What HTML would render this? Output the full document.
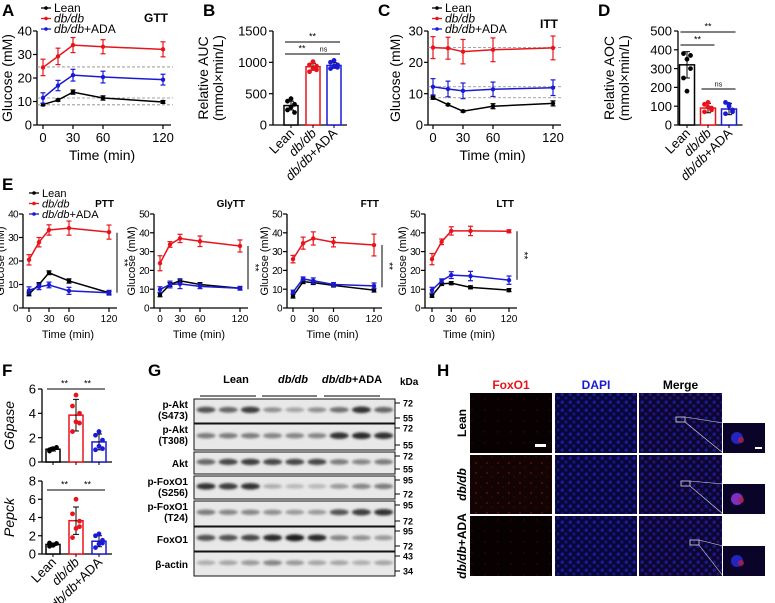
<!DOCTYPE html>
<html><head><meta charset="utf-8"><style>
html,body{margin:0;padding:0;background:#fff;}
svg{display:block;font-family:"Liberation Sans",Arial,sans-serif;}
</style></head><body>
<svg id="fig" width="775" height="603" viewBox="0 0 775 603" xmlns="http://www.w3.org/2000/svg">
<defs>
<filter id="blur1" x="-20%" y="-50%" width="140%" height="200%"><feGaussianBlur stdDeviation="1.2"/></filter>
<pattern id="dapiPat" width="8" height="8" patternUnits="userSpaceOnUse">
<rect width="8" height="8" fill="#07073c"/>
<circle cx="2.2" cy="2.2" r="1.7" fill="#1c1c96"/><circle cx="6" cy="6" r="1.5" fill="#181884"/>
</pattern>
<pattern id="mergePat" width="8" height="8" patternUnits="userSpaceOnUse">
<rect width="8" height="8" fill="#0c0634"/>
<circle cx="2.2" cy="2.2" r="1.7" fill="#1e1a8c"/><circle cx="6" cy="6" r="1.5" fill="#2a1672"/>
</pattern>
<pattern id="foxPat" width="13" height="11" patternUnits="userSpaceOnUse">
<rect width="13" height="11" fill="#080101"/><circle cx="4" cy="3" r="0.7" fill="#3e0a0a"/>
</pattern>
<pattern id="foxPat2" width="11" height="10" patternUnits="userSpaceOnUse">
<rect width="11" height="10" fill="#140303"/><circle cx="3" cy="3" r="1" fill="#5a0e0e"/><circle cx="8" cy="7" r="0.7" fill="#440a0a"/>
</pattern>
</defs>
</svg>
<script>
// ---------- DATA ----------
const times=[0,15,30,60,120];
const gttLean=[8.7,10.6,14,11.5,9.8], gttLeanE=[0.5,0.5,0.9,0.9,0.6];
const gttDb=[24.5,29.2,34,33.3,32.2], gttDbE=[3.5,3.5,3.2,3,3.2];
const gttAda=[11.5,16.8,21.2,20.4,19.3], gttAdaE=[2.2,2.2,2.5,2.5,2.3];
const ittLean=[8.7,6.5,4.4,6,6.9], ittLeanE=[0.5,0.3,0.3,0.8,0.8];
const ittDb=[24.7,24.5,23.4,24,24.6], ittDbE=[3.5,3.5,3.9,3.8,3.8];
const ittAda=[12.2,11.5,10.9,11.4,11.9], ittAdaE=[2.6,2.5,2.5,2.3,2.5];
const pttLean=[6,10,15,11.5,6.5], pttLeanE=[0.8,0.8,0.8,0.9,0.6];
const pttDb=[20.5,28,33.2,34,32.3], pttDbE=[2.2,2,2.2,3,3];
const pttAda=[7.5,9,9.8,7.3,6.5], pttAdaE=[1.5,1.2,1.2,1.5,1];
const glyLean=[7,12.5,14.5,12.5,10.5], glyLeanE=[1,1,1,1,0.8];
const glyDb=[23.8,33.8,37,35.5,33], glyDbE=[4,1.5,2.2,2.8,3.2];
const glyAda=[9.8,12.5,12.8,11.5,10.5], glyAdaE=[1.5,1.8,2.5,1.2,1];
const fttLean=[6.3,14,13.5,12,9.5], fttLeanE=[1,1,1,0.8,1];
const fttDb=[26,34.5,37,35,33.5], fttDbE=[2,3.2,3.5,2.5,5.8];
const fttAda=[8.5,15.5,14.5,12.5,11.8], fttAdaE=[1,1,1.5,1,1.5];
const lttLean=[6.5,12.8,13.2,11,9.5], lttLeanE=[0.8,0.8,0.8,0.8,0.8];
const lttDb=[26,35.2,41,41,40.8], lttDbE=[3,1.5,2.2,2.5,0.8];
const lttAda=[9.5,14.5,17.5,17,14.8], lttAdaE=[1.5,1,1.8,2.5,2.2];
const groups=["Lean","db/db","db/db+ADA"];
const aucMean=[310,930,950], aucSd=[70,55,45];
const aucPts=[[240,285,330,380,420,200],[850,900,940,960,1010,880],[900,940,960,1000,1030,920]];
const aocMean=[320,90,85], aocSd=[70,25,30];
const aocPts=[[380,350,300,250,180,370],[110,95,80,70,120,90],[120,100,80,60,110,70]];
const g6Mean=[1.05,3.85,1.65], g6Sd=[0.15,1.3,0.65];
const g6Pts=[[0.9,1.05,1.2,1.0,1.1],[2.5,3.3,4.0,4.6,5.5,3.2],[1.0,1.3,1.8,2.2,2.5,1.1]];
const pcMean=[1.05,3.65,1.4], pcSd=[0.15,1.5,0.6];
const pcPts=[[0.85,1.0,1.15,1.2,0.95],[1.8,2.8,3.6,4.4,6.0,3.0],[0.7,1.1,1.5,2.0,2.2,1.2]];
const blotRows=["p-Akt|(S473)","p-Akt|(T308)","Akt","p-FoxO1|(S256)","p-FoxO1|(T24)","FoxO1","β-actin"];
const blotInt=[[0.7,0.6,0.8,0.4,0.3,0.4,0.55,0.85,0.6],[0.5,0.5,0.5,0.45,0.45,0.45,0.85,0.9,0.85],[0.6,0.75,0.8,0.75,0.75,0.75,0.5,0.45,0.5],[0.85,0.8,0.85,0.25,0.2,0.2,0.35,0.45,0.5],[0.5,0.45,0.45,0.4,0.35,0.35,0.7,0.8,0.85],[0.7,0.7,0.75,0.9,0.95,0.9,0.45,0.4,0.35],[0.25,0.3,0.35,0.45,0.35,0.3,0.3,0.25,0.3]];
const blotKda=[["72","55"],["72","55"],["72","55"],["95","72"],["95","72"],["95","72"],["43","34"]];

// ---------- HELPERS ----------
const NS="http://www.w3.org/2000/svg";
const svg=document.getElementById('fig');
const C={lean:"#000",db:"#e8141b",ada:"#1a1ad6"};
function el(tag,attrs,parent,txt){const e=document.createElementNS(NS,tag);for(const k in attrs)e.setAttribute(k,attrs[k]);if(txt!==undefined)e.textContent=txt;(parent||svg).appendChild(e);return e;}
function grp(name){const g=el('g',{},svg);return g;}
function txt(g,x,y,s,o){o=o||{};const t=el('text',Object.assign({x:x,y:y,'font-size':o.fs||12,fill:o.fill||'#000','text-anchor':o.anchor||'start'},o.extra||{}),g);
 if(o.html){t.innerHTML=s;}else t.textContent=s;return t;}
const DB='<tspan font-style="italic">db/db</tspan>';

function lineChart(name,cfg){
 const g=grp(name);
 const sx=v=>cfg.x0+(v/120)*(cfg.x1-cfg.x0);
 const sy=v=>cfg.y0-(v/cfg.ymax)*(cfg.y0-cfg.yt);
 const fs=cfg.fs, tfs=cfg.tfs||cfg.fs+1, ls=cfg.ls||0;
 const ax=el('g',{},g);
 el('line',{x1:cfg.ax,y1:cfg.y0,x2:cfg.ax,y2:cfg.yt,stroke:'#000','stroke-width':1.3},ax);
 for(let v=0;v<=cfg.ymax;v+=cfg.ystep){el('line',{x1:cfg.ax-4,y1:sy(v),x2:cfg.ax,y2:sy(v),stroke:'#000','stroke-width':1.2},ax);txt(ax,cfg.ax-5,sy(v)+fs*0.36,String(v),{fs:fs,anchor:'end',extra:{'letter-spacing':ls}});}
 const xa=el('g',{},g);
 el('line',{x1:cfg.ax,y1:cfg.y0,x2:cfg.x1+8,y2:cfg.y0,stroke:'#000','stroke-width':1.3},xa);
 [0,30,60,120].forEach(v=>{el('line',{x1:sx(v),y1:cfg.y0,x2:sx(v),y2:cfg.y0+4,stroke:'#000','stroke-width':1.2},xa);txt(xa,sx(v),cfg.y0+4+fs,String(v),{fs:fs,anchor:'middle'});});
 const yt=txt(g,0,0,'Glucose (mM)',{fs:tfs,anchor:'middle',extra:{transform:`translate(${cfg.ylx},${(cfg.y0+cfg.yt)/2}) rotate(-90)`}});
 
 const xt=txt(g,(cfg.ax+cfg.x1)/2+2,cfg.xly,'Time (min)',{fs:tfs,anchor:'middle'});
 
 const tt=txt(g,cfg.x1+5,cfg.ttY,cfg.title,{fs:cfg.ttfs||fs-1,anchor:'end',extra:{'font-weight':'bold'}});
 
 (cfg.dash||[]).forEach(v=>{const d=el('line',{x1:cfg.ax,y1:sy(v),x2:cfg.x1+10,y2:sy(v),stroke:'#888','stroke-width':0.8,'stroke-dasharray':'3,2'},g);});
 [['lean',cfg.lean,cfg.leanE],['ada',cfg.ada,cfg.adaE],['db',cfg.db,cfg.dbE]].forEach(([k,vals,errs])=>{
  const s=el('g',{},g);
  el('polyline',{points:vals.map((v,i)=>sx(times[i])+','+sy(v)).join(' '),fill:'none',stroke:C[k],'stroke-width':1.5},s);
  vals.forEach((v,i)=>{const x=sx(times[i]);
   el('line',{x1:x,y1:sy(v+errs[i]),x2:x,y2:sy(v-errs[i]),stroke:C[k],'stroke-width':1.2},s);
   el('line',{x1:x-2.5,y1:sy(v+errs[i]),x2:x+2.5,y2:sy(v+errs[i]),stroke:C[k],'stroke-width':1.2},s);
   el('line',{x1:x-2.5,y1:sy(v-errs[i]),x2:x+2.5,y2:sy(v-errs[i]),stroke:C[k],'stroke-width':1.2},s);
   const p=el('circle',{cx:x,cy:sy(v),r:2.2,fill:C[k]},s);});
 });
 if(cfg.sig){const a=cfg.sig[0],b=cfg.sig[1];const x=cfg.x1+8;
  el('line',{x1:x,y1:sy(a),x2:x,y2:sy(b),stroke:'#000','stroke-width':1},g);
  const st=txt(g,0,0,'**',{fs:10,anchor:'middle',extra:{transform:`translate(${x+4},${(sy(a)+sy(b))/2}) rotate(90)`}});
  }
 if(cfg.legend){const [lx,ly]=cfg.legend;const lg=el('g',{},g);
  [['lean','Lean'],['db',DB],['ada',DB+'+ADA']].forEach(([k,l],i)=>{const y=ly+i*10.5;
   const e=el('g',{},lg);
   el('line',{x1:lx,y1:y,x2:lx+10,y2:y,stroke:C[k],'stroke-width':1.3},e);el('circle',{cx:lx+5,cy:y,r:1.8,fill:C[k]},e);
   txt(e,lx+13,y+4,l,{fs:cfg.lfs||12,html:true});});}
}

function barChart(name,cfg){
 const g=grp(name);
 const sy=v=>cfg.y0-(v/cfg.ymax)*(cfg.y0-cfg.yt);
 const fs=cfg.fs;
 const ax=el('g',{},g);
 el('line',{x1:cfg.ax,y1:cfg.y0,x2:cfg.ax,y2:cfg.yt,stroke:'#000','stroke-width':1.3},ax);
 for(let v=0;v<=cfg.ymax;v+=cfg.ystep){el('line',{x1:cfg.ax-4,y1:sy(v),x2:cfg.ax,y2:sy(v),stroke:'#000','stroke-width':1.2},ax);txt(ax,cfg.ax-6,sy(v)+fs*0.36,String(v),{fs:fs,anchor:'end'});}
 el('line',{x1:cfg.ax,y1:cfg.y0,x2:cfg.xs[2]+cfg.bw/2+6,y2:cfg.y0,stroke:'#000','stroke-width':1.3},g);
 const ks=['lean','db','ada'];
 cfg.means.forEach((m,i)=>{const x=cfg.xs[i];const b=el('g',{},g);
  el('rect',{x:x-cfg.bw/2,y:sy(m),width:cfg.bw,height:cfg.y0-sy(m),fill:'#fff',stroke:C[ks[i]],'stroke-width':1.5},b);
  const t=sy(m+cfg.sd[i]),bo=sy(m-cfg.sd[i]);
  el('line',{x1:x,y1:t,x2:x,y2:bo,stroke:'#000','stroke-width':1},b);
  el('line',{x1:x-3,y1:t,x2:x+3,y2:t,stroke:'#000','stroke-width':1},b);el('line',{x1:x-3,y1:bo,x2:x+3,y2:bo,stroke:'#000','stroke-width':1},b);
  cfg.pts[i].forEach((p,j)=>{const c=el('circle',{cx:x+((j%3)-1)*3.5,cy:sy(p),r:2.4,fill:C[ks[i]]},b);});
  el('line',{x1:x,y1:cfg.y0,x2:x,y2:cfg.y0+3,stroke:'#000'},b);
  if(cfg.cats){const l=txt(g,0,0,[ 'Lean',DB,DB+'+ADA'][i],{fs:fs,anchor:'end',html:true,extra:{transform:`translate(${x+4},${cfg.y0+9}) rotate(-45)`}});}
 });
 cfg.brackets.forEach(([a,b,y,l])=>{const x1=cfg.xs[a]-cfg.bw/2+1,x2=cfg.xs[b]+cfg.bw/2-1;
  const bg=el('g',{},g);
  el('line',{x1:x1,y1:y,x2:x2,y2:y,stroke:'#000','stroke-width':1},bg);
  txt(bg,(x1+x2)/2,y-2.5,l,{fs:l==='ns'?7:9,anchor:'middle'});});
 if(cfg.ytitle){const t=txt(g,0,0,'',{fs:fs+1,anchor:'middle',html:true,extra:{transform:`translate(${cfg.ylx},${(cfg.y0+cfg.yt)/2}) rotate(-90)`}});
  t.innerHTML=cfg.ytitle;}
}

function panelLabel(l,x,y){const t=txt(svg,x,y,l,{fs:17,extra:{'font-weight':'bold'}});}

// ---------- PANELS ----------
panelLabel('A',2,16);panelLabel('B',203,16);panelLabel('C',378,16);panelLabel('D',598,16);
panelLabel('E',2,190);panelLabel('F',2,376);panelLabel('G',148,376);panelLabel('H',437,376);

lineChart('panel-a-gtt',{ax:37,x0:43,x1:163,y0:125,yt:31,ymax:40,ystep:10,fs:13,ylx:12,xly:160,title:'GTT',ttY:22,ttfs:12,
 lean:gttLean,leanE:gttLeanE,db:gttDb,dbE:gttDbE,ada:gttAda,adaE:gttAdaE,dash:[24.7,11.5,8.6],legend:[41,8]});
barChart('panel-b-auc',{ax:273,xs:[291,313,334],bw:14,y0:125,yt:31,ymax:1500,ystep:500,fs:13,means:aucMean,sd:aucSd,pts:aucPts,
 cats:true,brackets:[[0,2,42,'**'],[0,1,54,'**'],[1,2,54,'ns']],ylx:216,ytitle:'<tspan x="0" dy="-8">Relative AUC</tspan><tspan x="0" dy="15">(mmol×min/L)</tspan>'});
lineChart('panel-c-itt',{ax:428,x0:433,x1:553,y0:125,yt:31,ymax:30,ystep:10,fs:13,ylx:400,xly:160,title:'ITT',ttY:28,ttfs:12,
 lean:ittLean,leanE:ittLeanE,db:ittDb,dbE:ittDbE,ada:ittAda,adaE:ittAdaE,dash:[24.7,12.2,8.7],legend:[432,8]});
barChart('panel-d-aoc',{ax:678,xs:[687,708,729],bw:15,y0:125,yt:31,ymax:500,ystep:100,fs:13,means:aocMean,sd:aocSd,pts:aocPts,
 cats:true,brackets:[[0,2,32,'**'],[0,1,45,'**'],[1,2,89,'ns']],ylx:622,ytitle:'<tspan x="0" dy="-8">Relative AOC</tspan><tspan x="0" dy="15">(mmol×min/L)</tspan>'});

const eCfg=(ax,x0,x1,ymax)=>({ax:ax,x0:x0,x1:x1,y0:308,yt:214,ymax:ymax,ystep:10,fs:10,ls:-0.6,tfs:11,ttfs:10,ylx:ax-19,xly:338,ttY:207});
lineChart('panel-e-ptt',Object.assign(eCfg(23,29,109,40),{title:'PTT',lean:pttLean,leanE:pttLeanE,db:pttDb,dbE:pttDbE,ada:pttAda,adaE:pttAdaE,sig:[32,6.5],legend:[29,193],lfs:11}));
lineChart('panel-e-glytt',Object.assign(eCfg(154,160,240,50),{title:'GlyTT',lean:glyLean,leanE:glyLeanE,db:glyDb,dbE:glyDbE,ada:glyAda,adaE:glyAdaE,sig:[33,10]}));
lineChart('panel-e-ftt',Object.assign(eCfg(287,293,374,50),{title:'FTT',lean:fttLean,leanE:fttLeanE,db:fttDb,dbE:fttDbE,ada:fttAda,adaE:fttAdaE,sig:[33.5,11]}));
lineChart('panel-e-ltt',Object.assign(eCfg(425,432,509,50),{title:'LTT',lean:lttLean,leanE:lttLeanE,db:lttDb,dbE:lttDbE,ada:lttAda,adaE:lttAdaE,sig:[40.8,15]}));

barChart('panel-f-g6pase',{ax:42,xs:[53,76,99],bw:14,y0:462,yt:389,ymax:6,ystep:2,fs:13,means:g6Mean,sd:g6Sd,pts:g6Pts,cats:false,
 brackets:[[0,1,389,'**'],[1,2,389,'**']],ylx:14,ytitle:'<tspan font-style="italic">G6pase</tspan>'});
barChart('panel-f-pepck',{ax:42,xs:[53,76,99],bw:14,y0:554,yt:481,ymax:8,ystep:2,fs:13,means:pcMean,sd:pcSd,pts:pcPts,cats:true,
 brackets:[[0,1,490,'**'],[1,2,490,'**']],ylx:14,ytitle:'<tspan font-style="italic">Pepck</tspan>'});

// ---------- BLOT ----------
(function(){const g=grp('panel-g-western-blot');
 const bx=194,bw=201;const rowsY=[[399,423],[424,450],[452,474],[476,499],[501,526],[527,551],[552,576]];
 [['Lean',236],[DB,293],[DB+'+ADA',352]].forEach(([l,x],i)=>{const t=txt(g,x,383,l,{fs:11,anchor:'middle',html:true,extra:{'font-weight':'bold'}});
  el('line',{x1:[200,262,324][i],y1:396,x2:[256,317,380][i],y2:396,stroke:'#333','stroke-width':1.3},g);});
 txt(g,400,385,'kDa',{fs:10,extra:{'font-weight':'bold'}});
 blotRows.forEach((r,i)=>{const [y1,y2]=rowsY[i];const h=y2-y1;
  const row=el('g',{},g);
  el('rect',{x:bx,y:y1,width:bw,height:h,fill:'#e8e8e8',stroke:'#111','stroke-width':1},row);
  blotInt[i].forEach((v,j)=>{const cx=bx+12+j*22.2;const c=Math.round(225-205*v);
   const b=el('ellipse',{cx:cx,cy:y1+h*0.45,rx:9.5,ry:2+v*1.5,fill:`rgb(${c},${c},${c})`,filter:'url(#blur1)'},row);});
  const parts=r.split('|');
  parts.forEach((p,k)=>txt(row,188,y1+(parts.length===1?h/2+4:9+k*11),p,{fs:10,anchor:'end',extra:{'font-weight':'bold'}}));
  blotKda[i].forEach((k,m)=>{const yy=m===0?y1+4:y2-5;el('line',{x1:bx+bw,y1:yy,x2:bx+bw+5,y2:yy,stroke:'#000'},row);txt(row,bx+bw+8,yy+3.5,k,{fs:9,extra:{'font-weight':'bold'}});});
 });
})();

// ---------- MICROSCOPY ----------
(function(){const g=grp('panel-h-immunofluorescence');
 const cols=[[470,82,'FoxO1','#e8141b'],[555,82,'DAPI','#1a1ad6'],[639,83,'Merge','#000']];
 const rows=[[393,60,'Lean'],[455,59,DB],[516,60,DB+'+ADA']];
 cols.forEach(([x,w,l,c])=>{const t=txt(g,x+w/2,389,l,{fs:12,anchor:'middle',fill:c,extra:{'font-weight':'bold'}});});
 rows.forEach(([y,h,l],ri)=>{const t=txt(g,0,0,l,{fs:12,anchor:'middle',html:true,extra:{'font-weight':'bold',transform:`translate(${466},${y+h/2}) rotate(-90)`}});
  cols.forEach(([x,w],ci)=>{const fill=ci===0?(ri===1?'url(#foxPat2)':'url(#foxPat)'):ci===1?'url(#dapiPat)':'url(#mergePat)';
   const r=el('rect',{x:x,y:y,width:w,height:h,fill:fill},g);});
  const ix=[676,681,690][ri], iy=[y+27,y+29,y+27][ri];
  el('rect',{x:ix,y:iy-3,width:9,height:5,fill:'none',stroke:'#ddd','stroke-width':0.8},g);
  const ins=el('rect',{x:723,y:[423,484,546][ri],width:42,height:30,fill:'#0a0428'},g);
  el('line',{x1:ix+9,y1:iy-3,x2:723,y2:[423,484,546][ri],stroke:'#ddd','stroke-width':0.6},g);
  el('line',{x1:ix+9,y1:iy+2,x2:723,y2:[453,514,576][ri],stroke:'#ddd','stroke-width':0.6},g);
  el('circle',{cx:737,cy:[438,499,561][ri],r:6,fill:ri===1?'#8030c0':'#2424c0'},g);
  el('circle',{cx:741,cy:[440,500,563][ri],r:3,fill:'#b02040',opacity:0.8},g);
 });
 el('rect',{x:535,y:444,width:11,height:3,fill:'#fff'},g);
 el('rect',{x:755,y:447,width:7,height:2,fill:'#fff'},g);
})();
</script>
</body></html>
